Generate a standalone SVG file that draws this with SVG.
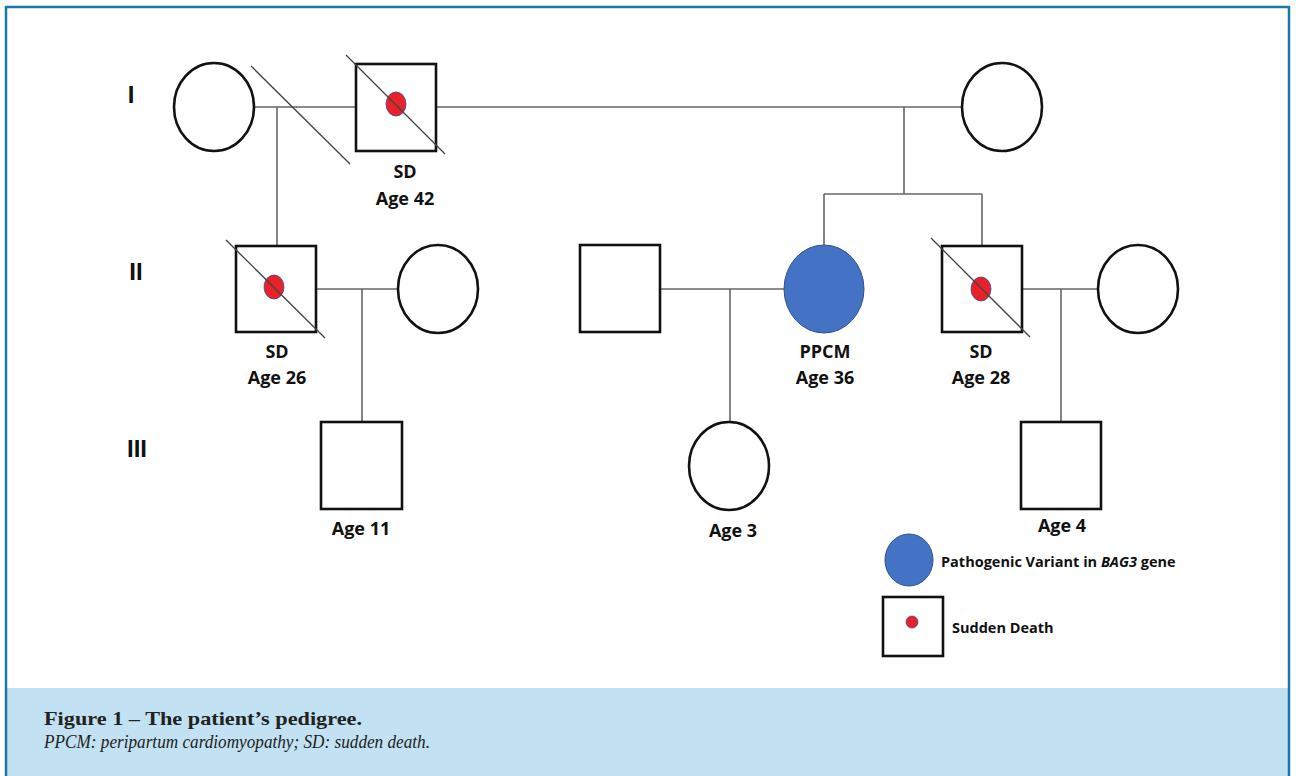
<svg xmlns="http://www.w3.org/2000/svg" width="1296" height="776" viewBox="0 0 1296 776">
<style>
.sym{fill:#fff;stroke:#111;stroke-width:2.6}
.dot{fill:#e8222a;stroke:#3a4a8a;stroke-width:0.8}
.aff{fill:#4472c4;stroke:#2f528f;stroke-width:1}
.ln{stroke:#666;stroke-width:1.6;fill:none}
.diag{stroke:#444;stroke-width:1.3;fill:none}
.lbl{font-family:"Open Sans","Liberation Sans",sans-serif;font-weight:bold;font-size:18px;fill:#111;text-anchor:middle}
.gen{font-family:"Liberation Sans",Arial,sans-serif;font-weight:bold;font-size:24px;fill:#111;text-anchor:middle}
.leg{font-family:"Open Sans","Liberation Sans",sans-serif;font-weight:bold;font-size:14.5px;fill:#111}
.cap{font-family:"Liberation Serif","Times New Roman",serif;font-size:19px;fill:#222}
</style>
<rect x="0" y="0" width="1296" height="776" fill="#fff"/>
<rect x="7" y="688" width="1281" height="88" fill="#c2e1f2"/>
<path d="M6,776 V7 H1289 V776" fill="none" stroke="#1a78a8" stroke-width="2.5"/>

<g id="connectors">
<line class="ln" x1="254" y1="107" x2="356" y2="107"/>
<line class="ln" x1="436" y1="107" x2="962" y2="107"/>
<line class="ln" x1="277" y1="107" x2="277" y2="246"/>
<line class="diag" x1="251" y1="66" x2="350" y2="164"/>
<line class="ln" x1="904" y1="107" x2="904" y2="194"/>
<line class="ln" x1="824" y1="194" x2="982" y2="194"/>
<line class="ln" x1="824" y1="194" x2="824" y2="245"/>
<line class="ln" x1="982" y1="194" x2="982" y2="246"/>
<line class="ln" x1="317" y1="289" x2="398" y2="289"/>
<line class="ln" x1="362" y1="289" x2="362" y2="422"/>
<line class="ln" x1="660" y1="289" x2="784" y2="289"/>
<line class="ln" x1="730" y1="289" x2="730" y2="422"/>
<line class="ln" x1="1022" y1="289" x2="1098" y2="289"/>
<line class="ln" x1="1061" y1="289" x2="1061" y2="422"/>
</g>

<g id="gen-labels">
<text class="gen" x="131" y="103">I</text>
<text class="gen" x="136" y="280">II</text>
<text class="gen" x="137" y="457">III</text>
</g>

<g id="I-1"><ellipse class="sym" cx="214" cy="107" rx="40" ry="44"/></g>
<g id="I-2">
<rect class="sym" x="356" y="64" width="80" height="87"/>
<ellipse class="dot" cx="396" cy="104" rx="10" ry="12"/>
<line class="diag" x1="346" y1="55" x2="445" y2="154"/>
<text class="lbl" x="405" y="178">SD</text>
<text class="lbl" x="405" y="205">Age 42</text>
</g>
<g id="I-3"><ellipse class="sym" cx="1002" cy="107" rx="40" ry="44"/></g>

<g id="II-1">
<rect class="sym" x="236" y="246" width="80" height="86"/>
<ellipse class="dot" cx="274" cy="287" rx="10" ry="12"/>
<line class="diag" x1="226" y1="240" x2="325" y2="338"/>
<text class="lbl" x="277" y="358">SD</text>
<text class="lbl" x="277" y="384">Age 26</text>
</g>
<g id="II-2"><ellipse class="sym" cx="438" cy="289" rx="40" ry="44"/></g>
<g id="II-3"><rect class="sym" x="580" y="245" width="80" height="87"/></g>
<g id="II-4">
<ellipse class="aff" cx="824" cy="289" rx="40" ry="44"/>
<text class="lbl" x="825" y="358">PPCM</text>
<text class="lbl" x="825" y="384">Age 36</text>
</g>
<g id="II-5">
<rect class="sym" x="942" y="246" width="80" height="86"/>
<ellipse class="dot" cx="981" cy="289" rx="10" ry="12"/>
<line class="diag" x1="931" y1="238" x2="1030" y2="337"/>
<text class="lbl" x="981" y="358">SD</text>
<text class="lbl" x="981" y="384">Age 28</text>
</g>
<g id="II-6"><ellipse class="sym" cx="1138" cy="289" rx="40" ry="44"/></g>

<g id="III-1">
<rect class="sym" x="321" y="422" width="81" height="87"/>
<text class="lbl" x="361" y="535">Age 11</text>
</g>
<g id="III-2">
<ellipse class="sym" cx="729" cy="466" rx="40" ry="44"/>
<text class="lbl" x="733" y="537">Age 3</text>
</g>
<g id="III-3">
<rect class="sym" x="1021" y="422" width="80" height="87"/>
<text class="lbl" x="1062" y="532">Age 4</text>
</g>

<g id="legend-affected">
<ellipse class="aff" cx="909" cy="560" rx="24" ry="26"/>
<text class="leg" x="941" y="567">Pathogenic Variant in <tspan font-style="italic">BAG3</tspan> gene</text>
</g>
<g id="legend-sd">
<rect class="sym" x="883" y="597" width="60" height="59"/>
<ellipse class="dot" cx="912" cy="622" rx="6" ry="6"/>
<text class="leg" x="952" y="633">Sudden Death</text>
</g>

<g id="caption">
<text class="cap" x="44" y="725" font-weight="bold" textLength="318" lengthAdjust="spacingAndGlyphs">Figure 1 – The patient’s pedigree.</text>
<text class="cap" x="44" y="748" font-style="italic" textLength="386" lengthAdjust="spacingAndGlyphs">PPCM: peripartum cardiomyopathy; SD: sudden death.</text>
</g>
</svg>
